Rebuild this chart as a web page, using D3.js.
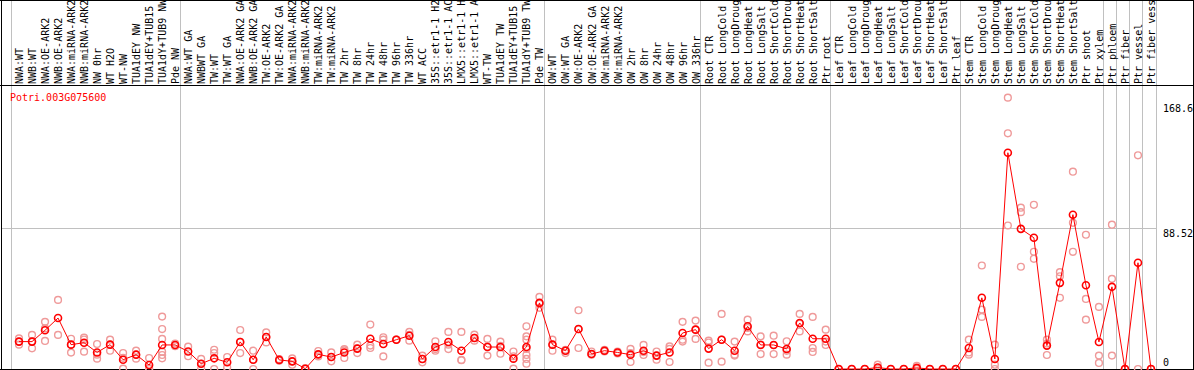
<!DOCTYPE html>
<html>
<head>
<meta charset="utf-8">
<script src="https://cdn.jsdelivr.net/npm/d3@7"></script>
<style>
body { margin: 0; background: #fff; }
svg { display: block; font-family: "DejaVu Sans Mono", monospace; }
</style>
</head>
<body>
<script>
var geneName = "Potri.003G075600";

var labels = [
  "NWA:WT", "NWB:WT", "NWA:OE-ARK2", "NWB:OE-ARK2", "NWA:miRNA-ARK2", "NWB:miRNA-ARK2",
  "NW 0hr", "WT H2O", "WT-NW", "TUA1dEY NW", "TUA1dEY+TUB15 NW", "TUA1dY+TUB9 NW", "Pde NW",
  "NWA:WT GA", "NWBWT GA", "TW:WT", "TW:WT GA", "NWA:OE-ARK2 GA", "NWB:OE-ARK2 GA",
  "TW:OE-ARK2", "TW:OE-ARK2 GA", "NWA:miRNA-ARK2", "NWB:miRNA-ARK2", "TW:miRNA-ARK2", "TW:miRNA-ARK2",
  "TW 2hr", "TW 8hr", "TW 24hr", "TW 48hr", "TW 96hr", "TW 336hr", "WT ACC",
  "35S::etr1-1 H2O", "35S::etr1-1 ACC", "LMX5::etr1-1 H2O", "LMX5::etr1-1 ACC",
  "WT-TW", "TUA1dEY TW", "TUA1dEY+TUB15 TW", "TUA1dY+TUB9 TW", "Pde TW",
  "OW:WT", "OW:WT GA", "OW:OE-ARK2", "OW:OE-ARK2 GA", "OW:miRNA-ARK2", "OW:miRNA-ARK2",
  "OW 2hr", "OW 8hr", "OW 24hr", "OW 48hr", "OW 96hr", "OW 336hr",
  "Root CTR", "Root LongCold", "Root LongDrought", "Root LongHeat", "Root LongSalt",
  "Root ShortCold", "Root ShortDrought", "Root ShortHeat", "Root ShortSalt", "Ptr root",
  "Leaf CTR", "Leaf LongCold", "Leaf LongDrought", "Leaf LongHeat", "Leaf LongSalt",
  "Leaf ShortCold", "Leaf ShortDrought", "Leaf ShortHeat", "Leaf ShortSalt", "Ptr leaf",
  "Stem CTR", "Stem LongCold", "Stem LongDrought", "Stem LongHeat", "Stem LongSalt",
  "Stem ShortCold", "Stem ShortDrought", "Stem ShortHeat", "Stem ShortSalt", "Ptr shoot",
  "Ptr xylem", "Ptr phloem", "Ptr fiber", "Ptr vessel", "Ptr fiber vessel"
];

var means = [
  17.2, 17.2, 24.3, 32, 15.3, 16.5, 10.4, 15.3, 5.8, 9, 2.5, 15.1, 15.1,
  11, 3.3, 6.7, 4.2, 17, 5.8, 20.1, 5.7, 4.8, 0.2, 9.2, 7.5, 10.4, 12.8, 19, 15.7,
  18.4, 20.9, 6.3, 13.8, 17, 11.5, 19.5, 13.8, 13.8, 6.5, 13.8, 41.5,
  15.3, 11.5, 25.1, 9.4, 11.5, 10.4, 9, 11.5, 8.4, 10.4, 22.6, 24.7,
  12.8, 18.4, 11.5, 26.8, 15.1, 15.1, 12.6, 28.9, 19, 19,
  0, 0, 0, 0.9, 0, 0, 0.7, 0, 0, 0,
  13.2, 44.7, 6.3, 135.8, 88, 82.4, 14.7, 54.1, 96.9, 52.6, 17,
  51.6, 0, 66.7, 0
];

var reps = [
  [19.2, 17.2, 15.3], [21.4, 17.2, 13], [29.6, 25.5, 17.6], [43.4, 21.4], [19, 15.3, 10.3],
  [19.7, 18.5, 10.9], [15.7, 9, 6.5], [18.4, 15.3, 11.5], [10, 7, 0.2], [11.5, 9, 6.5],
  [6.9, 0.5, 0], [32.9, 25.1, 18.9, 10.9, 8.8, 6.7], [16, 14.3],
  [14, 8], [6.3, 3.3, 0.2], [12.1, 10, 0], [7.5, 1], [24.5, 17, 10], [11.5, 5.8, 0],
  [23, 20.1, 16.7], [6.2, 5.2], [6.7, 4.8, 2.7], [0.5, 0], [11.3, 9.2, 7.9], [10.4, 7.5, 4.8],
  [11.7, 12.5, 6.9], [15.3, 13, 10], [27.9, 14.7, 13.2], [19.9, 18.4, 7.9], [18.4, 18.4],
  [23.3, 21.5, 17.8], [8.4, 6.3, 4.2], [17.4, 12.5, 11.5], [23.3, 15.3, 12.5], [23.3, 5.7, 5.5],
  [21.6, 19.5, 17.8], [18.9, 14, 8.4], [17.2, 14.6, 9.6], [11, 8, 0.2],
  [26.8, 20.5, 18.4, 12.6, 8.8, 6.3, 3.3], [45.3, 41, 38.4],
  [18.4, 15.3, 11.5], [12.1, 11.5, 10], [36.9, 25, 13.2], [11, 9.4, 9], [12, 11], [11, 9.8],
  [12.6, 10, 4.4], [15.1, 10.6, 8.8], [11, 8.4, 5.8], [14.2, 12.6, 4.4], [29.6, 18.4, 17.2],
  [30.4, 24.7, 18.9],
  [17.8, 16.6, 4], [34.6, 18.4, 4.6], [17.2, 8.4, 9], [31, 25.8, 23.6], [20.5, 15.4, 9.4],
  [20.9, 15, 9.4], [17.4, 11.4, 9], [34.6, 28.5, 23.6], [32.7, 13.2, 10.7], [24.7, 17.2, 15.1],
  [0, 0, 0], [0, 0], [0, 0], [2.7, 0, 0], [0, 0], [0, 0], [2, 0], [0, 0], [0, 0], [0, 0],
  [18.4, 10.4, 9], [65, 37.3, 32.7], [15.3, 2.7, 0], [170.4, 148, 90.1], [101.3, 98.5, 64.2],
  [103.1, 73.6, 69.2], [18.4, 16, 8.8], [60.8, 58.2, 44.7], [123.9, 91.8, 73.6],
  [84.3, 44, 31], [39, 8.4, 3.8],
  [90.6, 56.6, 8.4], [0, 0], [134.2, 0], [0, 0]
];

// column index where each gray divider sits
var separators = [0, 13, 41, 53, 63, 73, 84, 85, 86, 87, 88];
var yTicks = [0, 88.52, 168.6];

var width = 1194, height = 370;
var headerBottom = 85.5;
var maxChars = 14; // header only has room for 14 characters

var svg = d3.select("body")
    .append("svg")
    .attr("width", width)
    .attr("height", height);

var x = d3.scaleBand()
    .domain(d3.range(labels.length))
    .range([10.5, 1155.5])
    .padding(0);

function cx(i) { return x(i) + 8.5; }

var y = d3.scaleLinear()
    .domain([0, 168.6])
    .range([369, 100.5]);

// dividers
svg.append("g")
    .selectAll("line")
    .data(separators)
    .enter().append("line")
    .attr("x1", function (d) { return Math.round(d < labels.length ? x(d) : x.range()[1]) + 0.5; })
    .attr("x2", function (d) { return Math.round(d < labels.length ? x(d) : x.range()[1]) + 0.5; })
    .attr("y1", 0)
    .attr("y2", height)
    .style("stroke", "#c0c0c0")
    .style("shape-rendering", "crispEdges");

// grid line at the middle tick
svg.append("line")
    .attr("x1", 1)
    .attr("x2", 1156)
    .attr("y1", Math.round(y(88.52)) + 0.5)
    .attr("y2", Math.round(y(88.52)) + 0.5)
    .style("stroke", "#c0c0c0")
    .style("shape-rendering", "crispEdges");

// header labels
svg.append("g")
    .selectAll("text")
    .data(labels)
    .enter().append("text")
    .attr("transform", function (d, i) { return "translate(" + (cx(i) + 4) + ",84) rotate(-90)"; })
    .style("font-size", "10px")
    .style("fill", "#000")
    .text(function (d) { return d.length > maxChars ? d.slice(0, maxChars) : d; });

// frame
var frame = svg.append("g")
    .style("stroke", "#000")
    .style("shape-rendering", "crispEdges");
frame.append("line").attr("x1", 0).attr("x2", width).attr("y1", 0.5).attr("y2", 0.5);
frame.append("line").attr("x1", 0).attr("x2", width).attr("y1", headerBottom).attr("y2", headerBottom);
frame.append("line").attr("x1", 0).attr("x2", width).attr("y1", 369.5).attr("y2", 369.5);
frame.append("line").attr("x1", 1.5).attr("x2", 1.5).attr("y1", 0).attr("y2", height);
frame.append("line").attr("x1", 1193.5).attr("x2", 1193.5).attr("y1", 0).attr("y2", height);

// gene title
svg.append("text")
    .attr("x", 10)
    .attr("y", 101)
    .style("font-size", "10px")
    .style("fill", "#ff0000")
    .text(geneName);

// right axis labels
var tickShift = {"0": -3.5, "88.52": 8.7, "168.6": 11};
var axis = svg.append("g")
    .attr("transform", "translate(1163,0)")
    .call(d3.axisRight(y).tickValues(yTicks).tickSize(0).tickPadding(0).tickFormat(String));
axis.select(".domain").remove();
axis.selectAll("text")
    .attr("dy", function (d) { return tickShift[String(d)]; })
    .style("font-family", "DejaVu Sans Mono, monospace")
    .style("font-size", "10px")
    .style("fill", "#000");

// replicate points
var repPoints = [];
reps.forEach(function (r, i) {
    r.forEach(function (v) { repPoints.push({i: i, v: v}); });
});

svg.append("g")
    .selectAll("circle")
    .data(repPoints)
    .enter().append("circle")
    .attr("cx", function (d) { return cx(d.i); })
    .attr("cy", function (d) { return y(d.v); })
    .attr("r", 3.4)
    .style("fill", "none")
    .style("stroke", "#ef9a9a")
    .style("stroke-width", 1.4);

// mean line and points
var line = d3.line()
    .x(function (d, i) { return cx(i); })
    .y(function (d) { return y(d); });

svg.append("path")
    .datum(means)
    .attr("d", line)
    .style("fill", "none")
    .style("stroke", "#ff0000")
    .style("stroke-width", 1);

svg.append("g")
    .selectAll("circle")
    .data(means)
    .enter().append("circle")
    .attr("cx", function (d, i) { return cx(i); })
    .attr("cy", function (d) { return y(d); })
    .attr("r", 3.5)
    .style("fill", "none")
    .style("stroke", "#ff0000")
    .style("stroke-width", 1.6);
</script>
</body>
</html>
